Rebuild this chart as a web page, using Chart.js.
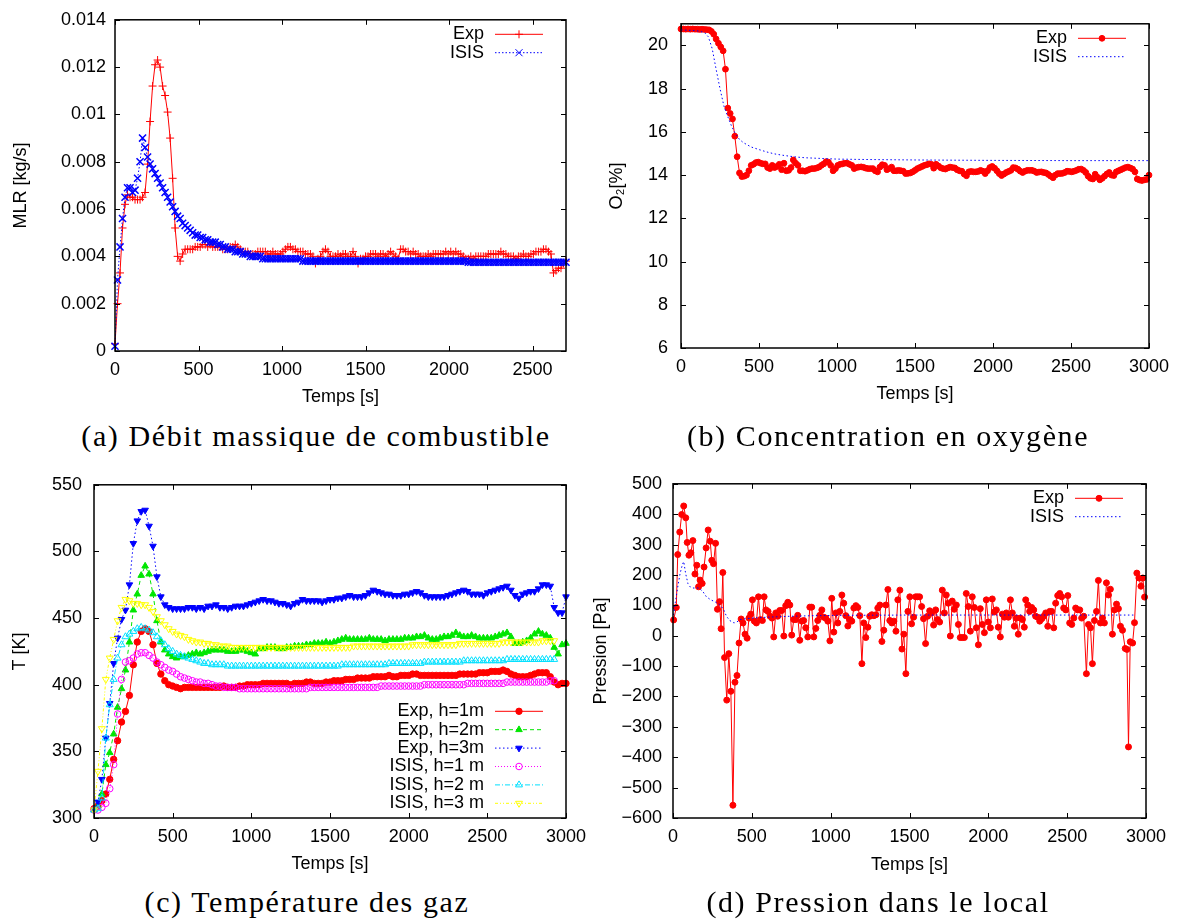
<!DOCTYPE html>
<html>
<head>
<meta charset="utf-8">
<script src="https://cdn.jsdelivr.net/npm/chart.js@4.4.1/dist/chart.umd.min.js"></script>
<style>
body { margin:0; background:#fff; width:1186px; height:924px; position:relative; overflow:hidden; }
canvas { position:absolute; }
.cap { position:absolute; width:600px; text-align:center; font-family:"Liberation Serif", serif; font-size:30px; line-height:30px; letter-spacing:1.6px; color:#000; white-space:nowrap; }
</style>
</head>
<body>
<canvas id="cA"></canvas>
<canvas id="cB"></canvas>
<canvas id="cC"></canvas>
<canvas id="cD"></canvas>
<div class="cap" style="left:16px;top:421px">(a) Débit massique de combustible</div>
<div class="cap" style="left:588px;top:421px">(b) Concentration en oxygène</div>
<div class="cap" style="left:7px;top:887px">(c) Température des gaz</div>
<div class="cap" style="left:578px;top:887px">(d) Pression dans le local</div>
<script>
// (a) MLR, one value every 15 s
const mlrStep = 15;
const mlrExp = [
  0.0003,0.0020,0.0033,0.0052,0.0062,0.0066,0.0065,0.0065,0.0064,0.0064,
  0.0064,0.0065,0.0067,0.0079,0.0097,0.0112,0.0121,0.0123,0.0120,0.0112,
  0.0108,0.0101,0.0090,0.0073,0.0052,0.0040,0.0038,0.0041,0.0043,0.0043,
  0.0043,0.0043,0.0044,0.0044,0.0044,0.0045,0.0045,0.0044,0.0045,0.0044,0.0044,
  0.0044,0.0044,0.0043,0.0043,0.0043,0.0044,0.0044,0.0045,0.0044,0.0043,
  0.0042,0.0042,0.0042,0.0041,0.0041,0.0041,0.0042,0.0042,0.0042,0.0042,
  0.0041,0.0041,0.0042,0.0041,0.0041,0.0041,0.0042,0.0043,0.0044,0.0044,
  0.0043,0.0043,0.0042,0.0042,0.0042,0.0041,0.0041,0.0041,0.0040,0.0037,
  0.0039,0.0040,0.0042,0.0043,0.0042,0.0040,0.0040,0.0040,0.0041,0.0040,
  0.0041,0.0041,0.0040,0.0040,0.0042,0.0040,0.0037,0.0039,0.0039,0.0040,
  0.0040,0.0041,0.0041,0.0041,0.0040,0.0041,0.0041,0.0040,0.0041,0.0042,
  0.0041,0.0040,0.0039,0.0043,0.0043,0.0042,0.0042,0.0041,0.0042,0.0041,
  0.0041,0.0040,0.0040,0.0040,0.0041,0.0040,0.0041,0.0041,0.0041,0.0041,
  0.0041,0.0042,0.0041,0.0042,0.0041,0.0042,0.0041,0.0041,0.0040,0.0039,
  0.0039,0.0040,0.0039,0.0040,0.0040,0.0040,0.0040,0.0040,0.0041,0.0041,
  0.0041,0.0041,0.0041,0.0042,0.0041,0.0041,0.0040,0.0040,0.0040,0.0039,
  0.0040,0.0040,0.0041,0.0040,0.0040,0.0041,0.0041,0.0042,0.0042,0.0042,
  0.0043,0.0043,0.0042,0.0041,0.0033,0.0034,0.0035,0.0035,0.0037,0.0038
];
const mlrIsis = [
  0.0002,0.0030,0.0044,0.0056,0.0065,0.0069,0.0069,0.0067,0.0068,0.0073,
  0.0080,0.0090,0.0086,0.0082,0.0079,0.0077,0.0075,0.0073,0.0071,0.0069,
  0.0067,0.0065,0.0063,0.0061,0.0059,0.0057,0.0056,0.0054,0.0053,0.0052,
  0.0051,0.0050,0.0049,0.0049,0.0048,0.0048,0.0047,0.0047,0.0046,0.0046,0.0046,
  0.0045,0.0045,0.0044,0.0044,0.0043,0.0043,0.0043,0.0042,0.0042,0.0042,
  0.0041,0.0041,0.0041,0.0040,0.0040,0.0040,0.0040,0.0040,0.0039,0.0039,
  0.0039,0.0039,0.0039,0.0039,0.0039,0.0039,0.0039,0.0039,0.0039,0.0039,
  0.0039,0.0039,0.0039,0.0039,0.0038,0.0038,0.0038,0.0038,0.0038,0.0038,
  0.0038,0.0038,0.0038,0.0038,0.0038,0.0038,0.0038,0.0038,0.0038,0.0038,
  0.0038,0.0038,0.0038,0.0038,0.0038,0.0038,0.0038,0.0038,0.0038,0.0038,
  0.0038,0.0038,0.0038,0.0038,0.0038,0.0038,0.0038,0.0038,0.0038,0.0038,
  0.0038,0.0038,0.0038,0.0038,0.0038,0.0038,0.0038,0.0038,0.0038,0.0038,
  0.0038,0.0038,0.0038,0.0038,0.0038,0.0038,0.0038,0.0038,0.0038,0.0038,
  0.0038,0.0038,0.0038,0.0038,0.0038,0.0038,0.0038,0.0038,0.0038,0.0038,
  0.00375,0.00375,0.00375,0.00375,0.00375,0.00375,0.00375,0.00375,0.00375,0.00375,
  0.00375,0.00375,0.00375,0.00375,0.00375,0.00375,0.00375,0.00375,0.00375,0.00375,
  0.00375,0.00375,0.00375,0.00375,0.00375,0.00375,0.00375,0.00375,0.00375,0.00375,
  0.00375,0.00375,0.00375,0.00375,0.00375,0.00375,0.00375,0.00375,0.00375,0.00375
];

// (b) O2, measured every 15 s; model given at its own times
const o2Step = 15;
const o2Exp = [
  20.76,20.76,20.75,20.76,20.75,20.76,20.75,20.75,20.74,20.75,
  20.74,20.73,20.72,20.65,20.52,20.3,20.1,19.93,19.75,18.9,
  17.1,16.85,16.6,15.8,14.85,14.1,13.93,13.95,14.0,14.2,
  14.45,14.5,
  14.58,14.6,14.55,14.52,14.52,14.35,14.3,14.45,14.35,14.4,
  14.5,14.25,14.55,14.2,14.22,14.35,14.7,14.55,14.45,14.2,
  14.2,14.18,14.22,14.27,14.3,14.3,14.33,14.37,14.45,14.52,
  14.62,14.6,14.45,14.2,14.3,14.45,14.5,14.52,14.55,14.55,
  14.5,14.45,14.3,14.35,14.37,14.38,14.36,14.32,14.3,14.3,
  14.3,14.2,14.15,14.37,14.48,14.45,14.25,14.3,14.37,14.2,
  14.2,14.22,14.2,14.18,14.07,14.08,14.1,14.15,14.22,14.3,
  14.35,14.4,14.45,14.48,14.52,14.5,14.32,14.5,14.42,14.34,
  14.3,14.28,14.33,14.37,14.35,14.33,14.25,14.2,14.18,14.05,
  13.97,14.15,14.17,14.15,14.15,14.17,14.22,14.18,14.07,14.2,
  14.35,14.4,14.32,14.2,14.07,13.98,14.05,14.12,14.17,14.22,
  14.35,14.33,14.27,14.18,14.12,14.18,14.22,14.22,14.22,14.18,
  14.12,14.14,14.15,14.12,14.1,14.03,13.95,13.88,14.0,14.07,
  14.07,14.08,14.12,14.18,14.17,14.15,14.18,14.22,14.27,14.28,
  14.22,14.12,13.95,13.85,13.82,14.04,13.9,13.78,13.85,13.95,
  14.05,14.12,14.0,13.98,14.15,14.2,14.25,14.3,14.35,14.37,
  14.33,14.28,14.15,13.82,13.77,13.75,13.78,13.8,14.0
];
const o2IsisT = [0,50,100,150,175,200,225,250,275,300,325,350,375,400,450,500,550,600,650,700,750,800,900,1000,1200,1500,2000,2500,3000];
const o2Isis = [20.72,20.7,20.68,20.6,20.4,19.85,18.9,18.0,17.2,16.7,16.25,15.9,15.65,15.5,15.3,15.18,15.07,14.98,14.92,14.87,14.83,14.8,14.77,14.74,14.72,14.7,14.68,14.67,14.67];

// (c) gas temperature, one value every 25 s
const tStep = 25;
const tExp1 = [
  307,309,313,318,329,344,358,372,380,392,
  415,432,440,442,440,430,416,408,403,400,
  399,398,397,398,398,398,398,398,398,398,
  398,398,398,399,398,398,398,399,399,400,
  400,400,400,401,401,401,401,401,401,401,
  400,401,401,401,402,402,401,401,401,402,
  402,403,403,403,404,404,404,405,405,405,
  405,406,406,406,406,407,406,406,407,407,
  407,408,408,407,407,407,407,407,407,407,
  407,407,407,408,408,408,408,408,409,409,
  409,410,410,410,411,410,408,407,406,406,
  406,407,408,409,409,409,406,402,400,401,
  401
];
const tExp2 = [
  306,309,318,340,349,363,383,397,411,432,
  456,468,482,489,483,468,448,432,426,423,
  421,420,421,421,422,423,424,423,424,425,
  426,426,426,426,425,425,425,426,426,425,
  424,423,427,427,428,428,428,427,427,428,
  428,429,429,429,430,430,431,431,431,432,
  431,432,433,434,435,434,434,434,434,434,
  435,434,434,434,433,434,434,434,434,435,
  435,435,436,436,437,435,434,434,435,436,
  436,437,439,437,436,436,437,436,435,435,
  435,435,436,437,438,439,436,431,431,432,
  433,435,438,440,438,437,435,428,423,430,
  431
];
const tExp3 = [
  306,312,329,360,386,416,435,449,456,475,
  506,523,530,531,519,504,481,466,460,458,
  457,457,457,457,458,458,457,458,457,459,
  459,460,458,458,457,458,459,459,459,460,
  461,462,463,464,463,463,462,461,461,460,
  459,461,462,464,463,463,463,463,462,463,
  464,464,465,465,466,467,466,466,466,467,
  469,471,470,469,468,468,467,467,467,468,
  468,469,470,469,467,466,466,466,466,466,
  467,468,469,470,471,470,468,468,468,467,
  469,470,471,472,473,474,471,467,465,468,
  469,470,470,472,475,475,474,458,454,454,
  466
];
const tIsis1 = [
  306,306,308,311,322,340,378,404,417,418,
  420,423,424,424,422,420,417,415,413,411,
  410,408,406,405,404,403,402,402,401,401,
  400,399,399,398,398,398,398,397,397,397,
  397,397,397,397,397,397,397,397,397,397,
  397,397,397,397,397,398,398,398,398,398,
  398,398,398,398,398,398,398,398,398,398,
  398,398,398,399,399,399,399,399,399,399,
  399,399,399,399,400,400,400,400,400,400,
  400,400,400,400,400,401,401,401,401,401,
  401,401,401,401,401,402,402,402,402,402,
  402,402,402,402,402,402,403,403
];
const tIsis2 = [
  306,307,315,360,385,404,420,430,436,438,
  440,442,443,442,441,439,436,433,430,427,
  425,423,422,421,420,419,418,417,416,416,
  415,415,415,415,414,414,414,414,414,414,
  414,414,414,414,414,414,414,414,414,414,
  414,414,414,414,414,414,414,414,414,414,
  414,414,414,415,415,415,415,415,415,415,
  415,415,415,415,415,416,416,416,416,416,
  416,416,416,416,417,417,417,417,417,417,
  417,417,417,417,418,418,418,418,418,418,
  418,418,418,418,418,419,419,419,419,419,
  419,419,419,419,419,419,419,419
];
const tIsis3 = [
  306,335,367,404,420,434,448,458,464,463,
  461,461,460,460,458,455,451,448,445,442,
  440,438,437,436,434,433,432,432,431,431,
  430,430,429,429,429,428,428,428,428,428,
  428,428,428,428,428,428,428,428,428,428,
  428,428,428,428,428,428,428,428,428,428,
  428,428,428,428,428,428,429,429,429,429,
  429,429,429,429,429,429,429,429,429,429,
  429,430,430,430,430,430,430,430,430,430,
  430,430,430,431,431,431,431,431,431,431,
  431,431,431,431,432,432,432,432,432,432,
  432,432,432,432,433,433,433,433
];

// (d) pressure, measured times and values as read
const presT = [
  4,21,30,43,55,68,81,90,101,113,126,139,151,162,172,185,197,210,223,236,
  246,257,270,282,295,305,316,327,341,354,367,380,393,406,419,432,444,457,470,482,
  493,504,516,529,542,554,567,578,590,603,616,628,639,652,664,677,690,703,715,728,
  741,753,766,779,791,804,817,829,842,855,868,880,893,906,918,931,944,956,969,982,
  995,1007,1020,1033,1045,1058,1071,1083,1096,1109,1121,1134,1147,1160,1172,1185,1198,1210,1223,1236,
  1248,1261,1274,1287,1299,1312,1325,1337,1350,1363,1375,1388,1401,1414,1426,1439,1452,1464,1477,1490,
  1502,1513,1526,1539,1551,1564,1577,1589,1602,1615,1628,1640,1653,1666,1678,1691,1708,1721,1733,1746,
  1759,1771,1784,1797,1810,1822,1835,1848,1860,1873,1886,1898,1911,1924,1937,1949,1962,1975,1987,2000,
  2013,2025,2038,2051,2063,2076,2089,2102,2114,2127,2140,2152,2165,2178,2190,2203,2216,2228,2237,2250,
  2262,2275,2288,2300,2313,2326,2339,2351,2364,2377,2389,2402,2415,2427,2440,2453,2465,2478,2491,2504,
  2516,2529,2542,2554,2567,2580,2592,2605,2622,2635,2648,2660,2673,2686,2698,2711,2724,2736,2749,2762,
  2774,2787,2800,2813,2825,2838,2851,2868,2879,2889,2900,2915,2927,2942,2955,2968,2980,2991
];
const presExp = [
  52,93,267,341,399,427,388,307,265,273,313,203,232,161,183,172,226,289,348,311,
  248,237,304,87,112,23,208,-72,-212,-59,-183,-558,-153,-131,-24,55,42,5,-8,58,
  71,118,48,42,128,53,50,128,85,80,64,58,-4,75,64,83,83,-1,99,110,
  101,2,53,53,67,-15,48,50,26,-4,94,94,-4,24,50,67,85,61,58,48,
  -17,123,12,75,42,80,134,107,66,32,53,48,91,99,93,66,-92,42,-6,28,
  64,69,66,69,91,101,-19,18,101,152,50,42,48,15,118,150,-44,5,-125,80,
  128,39,61,128,128,128,96,56,-26,64,82,75,35,85,53,45,150,75,134,107,
  -1,114,87,101,37,-6,-6,-6,139,96,15,128,93,26,-30,89,37,10,118,45,
  26,121,78,85,28,-4,71,61,75,61,118,75,31,58,5,58,53,28,118,101,
  80,93,85,64,61,48,56,64,75,31,80,80,26,107,132,139,128,91,85,132,
  42,37,58,91,85,85,58,64,-125,37,26,-92,50,80,182,42,58,42,174,134,
  153,5,85,104,89,31,18,-42,-45,-366,-20,-24,43,206,190,163,190,127
];
const presIsisT = [0,15,30,45,60,68,80,95,110,127,145,165,190,212,240,265,290,307,325,339,360,387,405,423,450,500,600,741,900,1058,1500,2000,2500,2920];
const presIsis = [55,110,160,205,235,244,205,171,160,157,157,157,145,128,118,112,104,96,82,64,50,42,45,53,55,58,61,64,66,67,68,68,68,68];

const RED = '#ff0000', BLUE = '#0000ff', GREEN = '#00e600', MAGENTA = '#ff00ff', CYAN = '#00e0ff', YELLOW = '#ffff00';
const FONT = '"Liberation Sans", Arial, sans-serif';

Chart.defaults.font.family = FONT;
Chart.defaults.font.size = 18;
Chart.defaults.color = '#000';

function steps(values, dt) {
  return values.map((v, i) => i * dt);
}

function series(label, times, values, style) {
  return Object.assign({
    label: label,
    data: values.map((v, i) => ({x: times[i], y: v})),
    borderWidth: 1,
    pointBorderWidth: 1,
    clip: false,
    tension: 0,
    fill: false
  }, style);
}

// gnuplot look: inner ticks on all four sides, frame, key at the right
const gnuplotFrame = {
  id: 'gnuplotFrame',
  afterDatasetsDraw(chart, args, opts) {
    const ctx = chart.ctx, a = chart.chartArea;
    const xs = chart.scales.x, ys = chart.scales.y;
    ctx.save();
    ctx.strokeStyle = '#000';
    ctx.lineWidth = 1;
    ctx.beginPath();
    xs.ticks.forEach(t => {
      const p = Math.round(xs.getPixelForValue(t.value)) + 0.5;
      ctx.moveTo(p, a.bottom); ctx.lineTo(p, a.bottom - 5);
      ctx.moveTo(p, a.top); ctx.lineTo(p, a.top + 5);
    });
    ys.ticks.forEach(t => {
      const p = Math.round(ys.getPixelForValue(t.value)) + 0.5;
      ctx.moveTo(a.left, p); ctx.lineTo(a.left + 5, p);
      ctx.moveTo(a.right, p); ctx.lineTo(a.right - 5, p);
    });
    ctx.stroke();
    ctx.lineWidth = 1.5;
    ctx.strokeRect(a.left, a.top, a.right - a.left, a.bottom - a.top);

    const sets = chart.data.datasets;
    const rowH = 18.4;
    let y0 = opts.key === 'bottom' ? a.bottom - 14.7 - (sets.length - 1) * rowH : a.top + 14.5;
    ctx.font = '18px ' + FONT;
    ctx.textAlign = 'right';
    ctx.textBaseline = 'middle';
    sets.forEach((d, i) => {
      const yy = y0 + i * rowH;
      ctx.fillStyle = '#000';
      ctx.fillText(d.label, a.right - 82, yy);
      ctx.strokeStyle = d.borderColor;
      ctx.lineWidth = d.borderWidth;
      ctx.setLineDash(d.borderDash || []);
      ctx.beginPath();
      ctx.moveTo(a.right - 71, yy);
      ctx.lineTo(a.right - 23, yy);
      ctx.stroke();
      ctx.setLineDash([]);
      if (d.pointRadius > 0 && Chart.helpers && Chart.helpers.drawPoint) {
        ctx.fillStyle = d.pointBackgroundColor;
        ctx.strokeStyle = d.pointBorderColor;
        ctx.lineWidth = 1;
        Chart.helpers.drawPoint(ctx, {pointStyle: d.pointStyle, radius: d.pointRadius, rotation: d.pointRotation || 0, borderWidth: 1}, a.right - 47, yy);
      }
    });
    ctx.restore();
  }
};

function everyStep(step) {
  return scale => {
    const ticks = [];
    for (let v = Math.ceil(scale.min / step) * step; v <= scale.max + 1e-9; v += step) {
      ticks.push({value: +v.toFixed(6)});
    }
    scale.ticks = ticks;
  };
}

function panel(id, box, area, cfg) {
  const cv = document.getElementById(id);
  cv.width = box.w;
  cv.height = box.h;
  cv.style.left = box.x + 'px';
  cv.style.top = box.y + 'px';
  return new Chart(cv, {
    type: 'line',
    data: {datasets: cfg.datasets},
    plugins: [gnuplotFrame],
    options: {
      responsive: false,
      animation: false,
      devicePixelRatio: 1,
      layout: {padding: {left: 0, top: area.t, right: box.w - area.r, bottom: 0}},
      plugins: {
        legend: {display: false},
        tooltip: {enabled: false},
        gnuplotFrame: {key: cfg.key}
      },
      scales: {
        x: {
          type: 'linear', min: cfg.x[0], max: cfg.x[1],
          grid: {display: false, drawTicks: false},
          border: {display: false},
          ticks: {padding: 8.2, maxRotation: 0, autoSkip: false, callback: v => String(v)},
          afterBuildTicks: everyStep(500),
          title: {display: true, text: 'Temps [s]', padding: {top: 0, bottom: cfg.xTitlePad}},
          afterFit: s => { s.height = box.h - area.b; }
        },
        y: {
          type: 'linear', min: cfg.y[0], max: cfg.y[1],
          grid: {display: false, drawTicks: false},
          border: {display: false},
          ticks: {padding: cfg.yTickPad, autoSkip: false, callback: cfg.yFmt},
          afterBuildTicks: everyStep(cfg.yStep),
          title: {display: true, text: cfg.yTitle, padding: {top: cfg.yTitlePad, bottom: 0}},
          afterFit: s => { s.width = area.l; }
        }
      }
    }
  });
}

panel('cA', {x: 0, y: 0, w: 600, h: 410}, {l: 115, t: 11, r: 566, b: 351}, {
  x: [0, 2700], y: [0, 0.014], yStep: 0.002,
  yFmt: v => v === 0 ? '0' : String(+v.toFixed(3)),
  yTitle: 'MLR [kg/s]', yTitlePad: 10.2, yTickPad: 9, xTitlePad: 2.5, key: 'top',
  datasets: [
    series('Exp', steps(mlrExp, mlrStep), mlrExp, {order: 1, borderColor: RED, pointStyle: 'cross', pointRadius: 4, pointBorderColor: RED, pointBackgroundColor: RED}),
    series('ISIS', steps(mlrIsis, mlrStep), mlrIsis, {order: 0, borderColor: BLUE, borderDash: [1.5, 2], pointStyle: 'crossRot', pointRadius: 5, pointBorderWidth: 1.5, pointBorderColor: BLUE, pointBackgroundColor: BLUE})
  ]
});

panel('cB', {x: 580, y: 0, w: 606, h: 410}, {l: 101, t: 11, r: 569, b: 348}, {
  x: [0, 3000], y: [6, 21], yStep: 2,
  yFmt: v => String(v),
  yTitle: 'O\u2082[%]', yTitlePad: 26.5, yTickPad: 13, xTitlePad: 4.9, key: 'top',
  datasets: [
    series('Exp', steps(o2Exp, o2Step), o2Exp, {order: 1, borderColor: RED, pointStyle: 'circle', pointRadius: 2.9, pointBorderColor: RED, pointBackgroundColor: RED}),
    series('ISIS', o2IsisT, o2Isis, {order: 0, borderColor: BLUE, borderDash: [1.5, 2.5], pointRadius: 0})
  ]
});

panel('cC', {x: 0, y: 462, w: 600, h: 420}, {l: 94, t: 16, r: 566, b: 356}, {
  x: [0, 3000], y: [300, 550], yStep: 50,
  yFmt: v => String(v),
  yTitle: 'T [K]', yTitlePad: 9.2, yTickPad: 12, xTitlePad: 7.2, key: 'bottom',
  datasets: [
    series('Exp, h=1m', steps(tExp1, tStep), tExp1, {order: 5, borderColor: RED, pointStyle: 'circle', pointRadius: 3.2, pointBorderColor: RED, pointBackgroundColor: RED}),
    series('Exp, h=2m', steps(tExp2, tStep), tExp2, {order: 4, borderColor: GREEN, borderDash: [4, 3], pointStyle: 'triangle', pointRadius: 3.8, pointBorderColor: GREEN, pointBackgroundColor: GREEN}),
    series('Exp, h=3m', steps(tExp3, tStep), tExp3, {order: 3, borderColor: BLUE, borderDash: [1.5, 2.5], pointStyle: 'triangle', pointRotation: 180, pointRadius: 3.8, pointBorderColor: BLUE, pointBackgroundColor: BLUE}),
    series('ISIS, h=1 m', steps(tIsis1, tStep), tIsis1, {order: 2, borderColor: MAGENTA, borderDash: [1, 2], pointStyle: 'circle', pointRadius: 3.3, pointBorderColor: MAGENTA, pointBackgroundColor: 'rgba(0,0,0,0)'}),
    series('ISIS, h=2 m', steps(tIsis2, tStep), tIsis2, {order: 1, borderColor: CYAN, borderDash: [5, 2, 1, 2], pointStyle: 'triangle', pointRadius: 4, pointBorderColor: CYAN, pointBackgroundColor: 'rgba(0,0,0,0)'}),
    series('ISIS, h=3 m', steps(tIsis3, tStep), tIsis3, {order: 0, borderColor: YELLOW, borderDash: [3, 2, 1, 2, 1, 2], pointStyle: 'triangle', pointRotation: 180, pointRadius: 4, pointBorderColor: YELLOW, pointBackgroundColor: 'rgba(0,0,0,0)'})
  ]
});

panel('cD', {x: 580, y: 462, w: 606, h: 420}, {l: 93, t: 16, r: 566, b: 356}, {
  x: [0, 3000], y: [-600, 500], yStep: 100,
  yFmt: v => String(v).replace('-', '\u2212'),
  yTitle: 'Pression [Pa]', yTitlePad: 9.9, yTickPad: 11, xTitlePad: 6.2, key: 'top',
  datasets: [
    series('Exp', presT, presExp, {order: 1, borderColor: RED, pointStyle: 'circle', pointRadius: 3, pointBorderColor: RED, pointBackgroundColor: RED}),
    series('ISIS', presIsisT, presIsis, {order: 0, borderColor: BLUE, borderDash: [1.5, 2.5], pointRadius: 0})
  ]
});
</script>
</body>
</html>
